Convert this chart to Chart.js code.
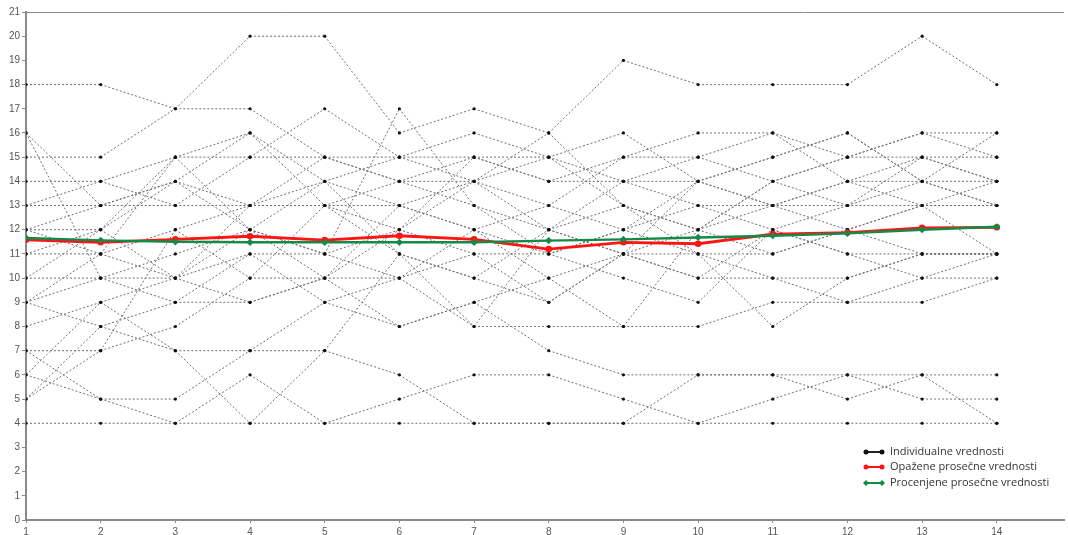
<!DOCTYPE html>
<html><head><meta charset="utf-8">
<script src="https://cdn.jsdelivr.net/npm/chart.js@4.4.0/dist/chart.umd.min.js"></script>
<style>html,body{margin:0;padding:0;background:#fff}#wrap{width:1068px;height:535px}</style>
</head><body><div id="wrap"><canvas id="c" width="1068" height="535"></canvas></div>
<script>
const timePoints = [1,2,3,4,5,6,7,8,9,10,11,12,13,14];
const yTickValues = [0,1,2,3,4,5,6,7,8,9,10,11,12,13,14,15,16,17,18,19,20,21];

const ind01 = [18,18,17,17,15,15,15,15,14,14,13,14,14,13];
const ind02 = [15,15,17,20,20,16,17,16,19,18,18,18,20,18];
const ind03 = [16,13,14,16,14,13,14,13,15,16,16,15,16,16];
const ind04 = [14,14,15,15,17,15,16,15,16,14,15,16,14,14];
const ind05 = [13,14,13,15,15,14,15,14,15,15,14,13,15,15];
const ind06 = [13,13,13,13,13,13,12,13,12,13,13,13,13,13];
const ind07 = [12,13,14,13,13,14,13,12,13,12,11,12,13,11];
const ind08 = [16,10,9,11,11,12,15,14,14,15,16,14,15,14];
const ind09 = [12,12,15,16,13,12,14,16,13,12,14,15,16,15];
const ind10 = [11,12,10,12,11,17,13,11,12,14,15,16,14,16];
const ind11 = [9,11,15,12,14,15,14,12,14,13,12,11,11,11];
const ind12 = [4,4,4,4,4,4,4,4,4,4,4,4,4,4];
const ind13 = [7,5,4,6,4,5,6,6,5,4,5,6,5,5];
const ind14 = [6,5,5,7,9,8,9,7,6,6,6,6,6,6];
const ind15 = [5,8,7,7,7,6,4,4,4,6,6,5,6,4];
const ind16 = [7,7,8,10,10,10,8,8,8,8,9,9,9,10];
const ind17 = [8,9,7,4,7,11,10,9,11,10,10,9,10,10];
const ind18 = [6,9,10,9,10,8,9,10,11,11,10,10,11,11];
const ind19 = [9,10,11,12,11,10,11,11,10,9,12,11,10,11];
const ind20 = [10,10,10,11,9,10,12,11,12,11,11,12,11,11];
const ind21 = [11,11,12,10,13,11,10,12,11,12,13,14,13,14];
const ind22 = [12,11,10,13,14,11,8,12,11,10,12,13,14,13];
const ind23 = [10,12,14,12,10,13,12,10,8,12,14,15,15,14];
const ind24 = [9,8,9,9,10,12,11,9,11,14,13,12,13,13];
const ind25 = [5,7,12,13,15,14,14,15,13,11,8,10,11,11];
const individuals = [ind01,ind02,ind03,ind04,ind05,ind06,ind07,ind08,ind09,ind10,ind11,ind12,ind13,
  ind14,ind15,ind16,ind17,ind18,ind19,ind20,ind21,ind22,ind23,ind24,ind25];

const observedMean = [11.58,11.48,11.6,11.73,11.57,11.75,11.6,11.2,11.48,11.42,11.82,11.88,12.08,12.1];
const estimatedMean = [11.66,11.56,11.5,11.48,11.48,11.48,11.48,11.55,11.6,11.68,11.75,11.85,12.0,12.12];

const legendLabels = ['Individualne vrednosti','Opažene prosečne vrednosti','Procenjene prosečne vrednosti'];

const toXY = arr => arr.map((v,i)=>({x: timePoints[i], y: v}));

const DASH = [2,2];
const DASH_LEN = 4;

const datasets = [];
datasets.push({label: legendLabels[2], data: toXY(estimatedMean), borderColor:'#138a45', backgroundColor:'#138a45',
  borderWidth:2.4, pointStyle:'rectRot', pointRadius:3.6, pointBorderWidth:0, order:0});
datasets.push({label: legendLabels[1], data: toXY(observedMean), borderColor:'#ff1414', backgroundColor:'#ff1414',
  borderWidth:2.8, pointRadius:3.3, pointBorderWidth:0, order:1});
individuals.forEach((arr,k)=>{
  datasets.push({label: legendLabels[0], data: toXY(arr), borderColor:'#6e6e6e', backgroundColor:'#111',
    borderWidth:1, borderDash:DASH, pointRadius:1.6, pointBorderWidth:0, order:2,
    segment:{borderDashOffset: ctx => ctx.p0DataIndex * DASH_LEN}});
});

const frame = {
  id:'frame',
  afterDraw(chart){
    const ctx = chart.ctx, a = chart.chartArea;
    ctx.save();
    ctx.strokeStyle = '#8a8a8a'; ctx.lineWidth = 1;
    ctx.beginPath(); ctx.moveTo(a.left, a.top+0.5); ctx.lineTo(a.right, a.top+0.5); ctx.stroke();
    const colors = ['#111','#ff1414','#138a45'];
    const lcol = ['#222','#ff1414','#138a45'];
    const ys = [452,467,483];
    const x0 = 866, x1 = 882;
    ctx.font = '11px "Open Sans"';
    ctx.textBaseline = 'middle';
    [0,1,2].forEach(i=>{
      ctx.strokeStyle = lcol[i]; ctx.lineWidth = 2;
      ctx.beginPath(); ctx.moveTo(x0, ys[i]); ctx.lineTo(x1, ys[i]); ctx.stroke();
      ctx.fillStyle = colors[i];
      [x0,x1].forEach(px=>{
        ctx.beginPath();
        if(i===2){ ctx.moveTo(px,ys[i]-3); ctx.lineTo(px+3,ys[i]); ctx.lineTo(px,ys[i]+3); ctx.lineTo(px-3,ys[i]); ctx.closePath(); }
        else ctx.arc(px, ys[i], 2.5, 0, Math.PI*2);
        ctx.fill();
      });
      ctx.fillStyle = '#333';
      ctx.fillText(legendLabels[i], 890, ys[i]);
    });
    ctx.restore();
  }
};

new Chart(document.getElementById('c'), {
  type:'line',
  data:{datasets},
  options:{
    responsive:false, animation:false,
    layout:{padding:{top:12,left:0,right:0,bottom:0}},
    plugins:{legend:{display:false}, tooltip:{enabled:false}},
    elements:{line:{tension:0}},
    scales:{
      x:{type:'linear', min:1, max:14.9,
        afterFit(s){ s.height = 15; },
        border:{display:true,color:'#8a8a8a',width:2},
        grid:{drawOnChartArea:false, drawTicks:true, tickLength:3, color:'#8a8a8a'},
        ticks:{stepSize:1, includeBounds:false, autoSkip:false, maxRotation:0, padding:3,
          color:'#555', font:{family:'"Liberation Sans", Arial', size:10},
          callback:v => (Number.isInteger(v) && timePoints.includes(v)) ? String(v) : ''}},
      y:{type:'linear', min:0, max:21,
        afterFit(s){ s.width = 26; },
        afterBuildTicks(s){ s.ticks = yTickValues.map(v=>({value:v})); },
        border:{display:true,color:'#8a8a8a',width:2},
        grid:{drawOnChartArea:false, drawTicks:true, tickLength:4, color:'#8a8a8a'},
        ticks:{autoSkip:false, padding:2, color:'#555', font:{family:'"Liberation Sans", Arial', size:10}}}
    }
  },
  plugins:[frame]
});
</script></body></html>
